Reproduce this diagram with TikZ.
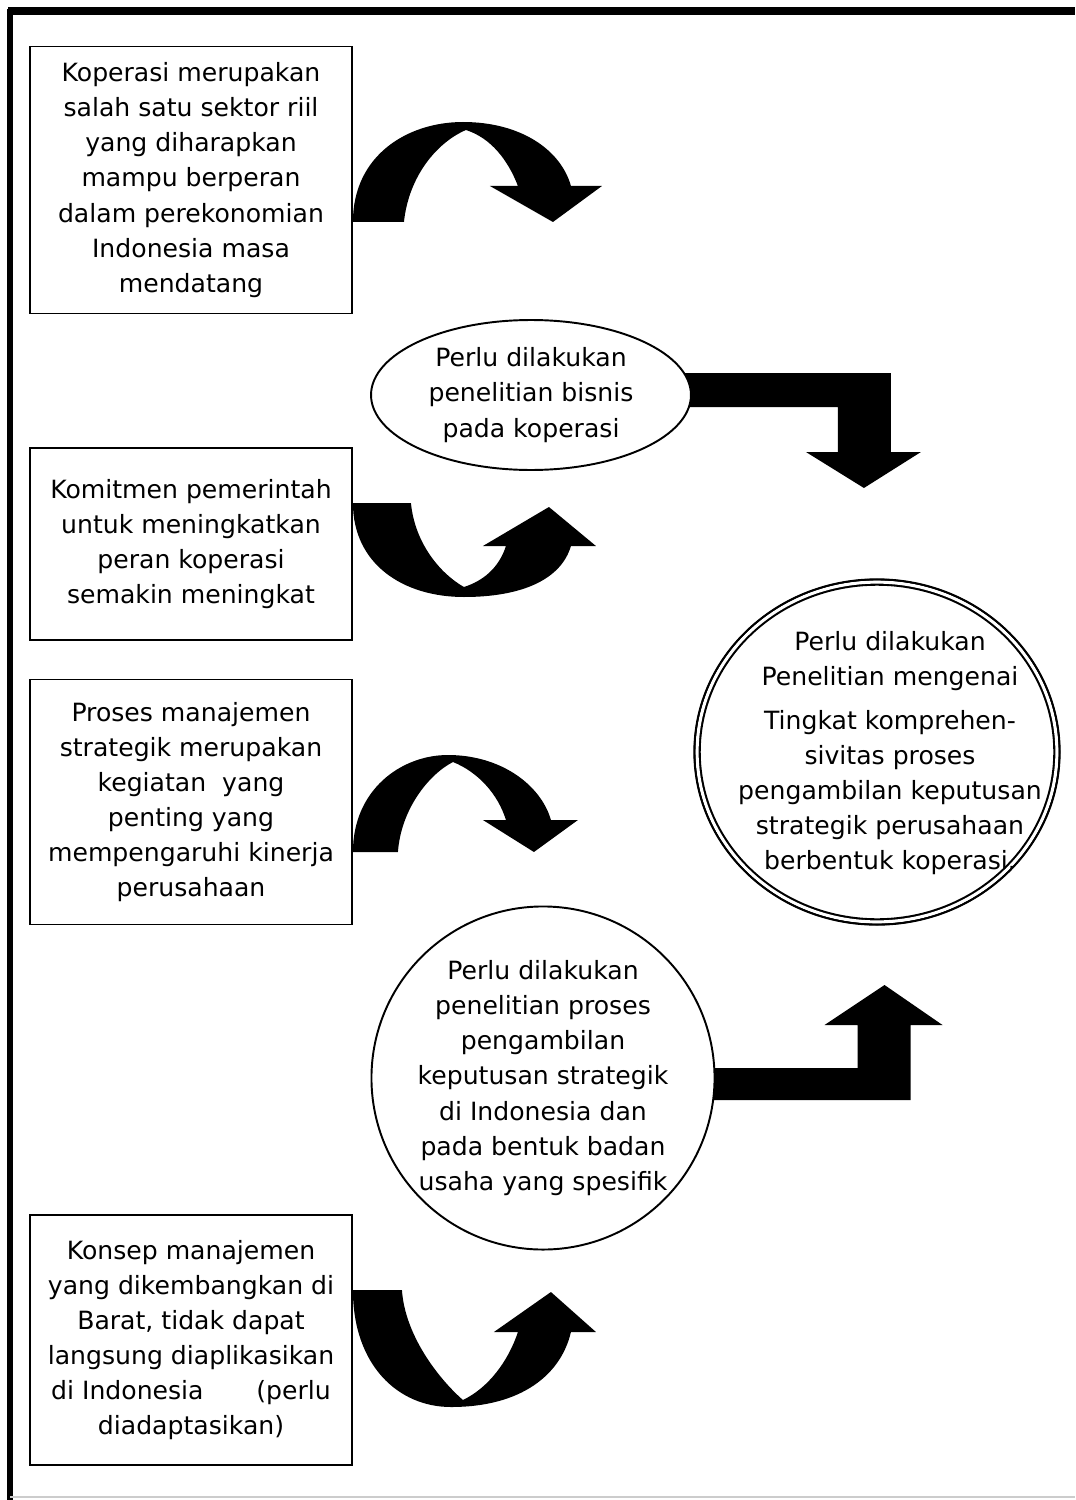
\documentclass[tikz,border=0pt]{standalone}
\usepackage{fontspec}
\setmainfont{DejaVu Sans}
\usetikzlibrary{shapes.geometric,backgrounds}
\begin{document}
\begin{tikzpicture}[x=0.02cm, y=-0.02cm,
    every node/.style={align=center, font=\fontsize{14.3}{20}\selectfont},
    box/.style={draw, line width=1.1pt, fill=white, minimum width=6.44cm},
    oval/.style={ellipse, draw, line width=1.1pt, fill=white, inner sep=0pt},
    ring/.style={circle, draw, line width=1.1pt, fill=white, inner sep=0pt},
    bigarrow/.style={fill=black}]
  \useasboundingbox (0,0) rectangle (1075,1500);
  \draw[line width=4pt] (8,11) -- (1075,11);
  \draw[line width=3.5pt] (10,9) -- (10,1500);
  \draw[gray!40, line width=0.8pt] (10,1497) -- (1075,1497);

  \node[box, minimum height=5.34cm] (sektor) at (191,180)
    {Koperasi merupakan\\salah satu sektor riil\\yang diharapkan\\mampu berperan\\dalam perekonomian\\Indonesia masa\\mendatang};
  \node[box, minimum height=3.84cm] (komitmen) at (191,544)
    {Komitmen pemerintah\\untuk meningkatkan\\peran koperasi\\semakin meningkat};
  \node[box, minimum height=4.9cm] (proses) at (191,802)
    {Proses manajemen\\strategik merupakan\\kegiatan~ yang\\penting yang\\mempengaruhi kinerja\\perusahaan};
  \node[box, minimum height=5cm] (konsep) at (191,1340)
    {Konsep manajemen\\yang dikembangkan di\\Barat, tidak dapat\\langsung diaplikasikan\\di Indonesia\hspace*{2.1em}(perlu\\diadaptasikan)};

  \node[oval, minimum width=6.4cm, minimum height=3cm] (bisnis) at (531,395)
    {Perlu dilakukan\\penelitian bisnis\\pada koperasi};
  \node[ring, minimum size=6.8cm] (keputusan) at (543,1078)
    {Perlu dilakukan\\penelitian proses\\pengambilan\\keputusan strategik\\di Indonesia dan\\pada bentuk badan\\usaha yang spesifik};
  \node[oval, double, double distance=1.8pt, line width=1.2pt, minimum width=7.2cm, minimum height=6.8cm,
    label={[xshift=0.26cm, yshift=-0.02cm]center:{Perlu dilakukan\\Penelitian mengenai\\[5pt]Tingkat komprehen-\\sivitas proses\\pengambilan keputusan\\strategik perusahaan\\berbentuk koperasi.}}]
    (tujuan) at (877,752) {};
  \draw[line width=0.9pt] (tujuan.center) ellipse [x radius=3.65cm, y radius=3.45cm];

  \begin{scope}[on background layer]
    \begin{scope}[shift={(sektor.east)}]
      \fill[bigarrow] (0,42) .. controls (0,-25) and (55,-58) .. (110,-58)
        .. controls (168,-58) and (208,-30) .. (218,6) -- (249,6) -- (200,42) -- (137,6) -- (165,6)
        .. controls (155,-20) and (138,-42) .. (113,-50) .. controls (85,-38) and (56,-5) .. (51,42) -- cycle;
    \end{scope}
    \begin{scope}[shift={(komitmen.east)}]
      \fill[bigarrow] (0,-41) .. controls (0,20) and (50,53) .. (111,53)
        .. controls (168,53) and (208,36) .. (218,2) -- (243,2) -- (196,-37) -- (130,2) -- (153,2)
        .. controls (146,24) and (130,37) .. (111,43) .. controls (88,30) and (62,0) .. (58,-41) -- cycle;
    \end{scope}
    \begin{scope}[shift={(proses.east)}]
      \fill[bigarrow] (0,50) .. controls (0,-12) and (48,-47) .. (95,-47)
        .. controls (148,-47) and (188,-17) .. (198,18) -- (225,18) -- (181,50) -- (130,18) -- (153,18)
        .. controls (145,-8) and (125,-30) .. (100,-40) .. controls (75,-27) and (48,8) .. (45,50) -- cycle;
    \end{scope}
    \begin{scope}[shift={(konsep.east)}]
      \fill[bigarrow] (0,-50) .. controls (0,25) and (45,67) .. (98,67)
        .. controls (168,67) and (208,35) .. (218,-8) -- (243,-8) -- (198,-48) -- (141,-8) -- (165,-8)
        .. controls (155,22) and (135,48) .. (110,60) .. controls (85,38) and (52,-5) .. (49,-50) -- cycle;
    \end{scope}
    \fill[bigarrow] ([xshift=-0.3cm]bisnis.east) ++(0,-22) -- ++(214,0) -- ++(0,79) -- ++(30,0)
      -- ++(-57,36) -- ++(-58,-36) -- ++(32,0) -- ++(0,-45) -- ++(-161,0) -- cycle;
    \fill[bigarrow] ([xshift=-0.3cm]keputusan.east) ++(0,-10) -- ++(157,0) -- ++(0,-43) -- ++(-33,0)
      -- ++(60,-40) -- ++(58,40) -- ++(-32,0) -- ++(0,75) -- ++(-210,0) -- cycle;
  \end{scope}
\end{tikzpicture}
\end{document}
